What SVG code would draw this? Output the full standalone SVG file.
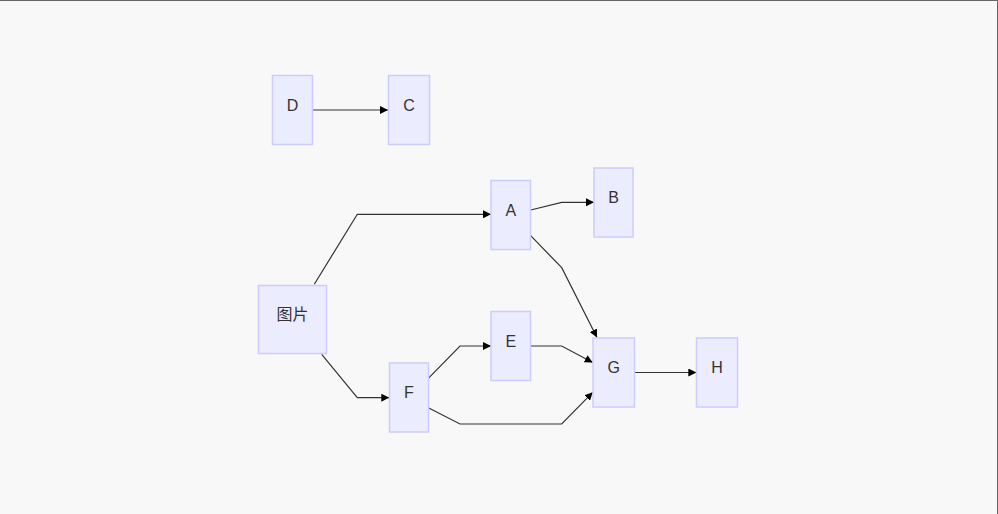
<svg xmlns="http://www.w3.org/2000/svg" width="998" height="514" viewBox="0 0 998 514">
<style>
.node rect{fill:#ECECFF;stroke:#CCCCFF;stroke-width:1.5}
.node text{font-family:"Liberation Sans","Noto Sans CJK SC",Arial,sans-serif;font-size:16px;fill:#333;text-anchor:middle;dominant-baseline:central}
.edges path{fill:none;stroke:#333;stroke-width:1.2}
</style>
<defs>
<marker id="arr" viewBox="0 0 10 10" refX="10" refY="5" markerWidth="8" markerHeight="8" markerUnits="userSpaceOnUse" orient="auto">
<path d="M0,0 L10,5 L0,10 z" fill="#000"/>
</marker>
</defs>
<rect x="0" y="0" width="998" height="514" fill="#F8F8F8"/>
<line x1="0" y1="0.5" x2="998" y2="0.5" stroke="#666" stroke-width="1"/>
<line x1="997.5" y1="0" x2="997.5" y2="514" stroke="#666" stroke-width="1"/>
<g class="edges">
<path d="M313,110 L388,110" marker-end="url(#arr)"/>
<path d="M314.3,284.3 L357.3,214.3 L491,214.3" marker-end="url(#arr)"/>
<path d="M321.7,354.3 L357.3,397.7 L389.3,397.7" marker-end="url(#arr)"/>
<path d="M530.7,210 L561.7,202.3 L594,202.3" marker-end="url(#arr)"/>
<path d="M530.7,235.7 L561.7,267.7 L597,337.5" marker-end="url(#arr)"/>
<path d="M428.3,378.3 L460,346 L491,346" marker-end="url(#arr)"/>
<path d="M530.7,346 L561.7,346 L592.7,362.5" marker-end="url(#arr)"/>
<path d="M428.3,407.7 L460,424 L561.7,424 L592.7,392.3" marker-end="url(#arr)"/>
<path d="M634.7,372.5 L696.3,372.5" marker-end="url(#arr)"/>
</g>
<g id="D" class="node"><rect x="272.5" y="75.5" width="40" height="69"/><text x="292.5" y="105">D</text></g>
<g id="C" class="node"><rect x="388.5" y="75.5" width="41" height="69"/><text x="409" y="105">C</text></g>
<g id="img" class="node"><rect x="258.5" y="285.5" width="68" height="68"/><text x="292.5" y="314">图片</text></g>
<g id="A" class="node"><rect x="491" y="180.5" width="39.5" height="69"/><text x="510.8" y="210">A</text></g>
<g id="B" class="node"><rect x="594" y="168" width="39" height="69"/><text x="613.5" y="197.5">B</text></g>
<g id="E" class="node"><rect x="491" y="311.5" width="39.5" height="69"/><text x="510.8" y="341">E</text></g>
<g id="F" class="node"><rect x="389.5" y="363" width="39" height="69"/><text x="409" y="392.5">F</text></g>
<g id="G" class="node"><rect x="593" y="338" width="41.5" height="69"/><text x="613.8" y="367.5">G</text></g>
<g id="H" class="node"><rect x="696.5" y="338" width="41" height="69"/><text x="717" y="367.5">H</text></g>
</svg>
